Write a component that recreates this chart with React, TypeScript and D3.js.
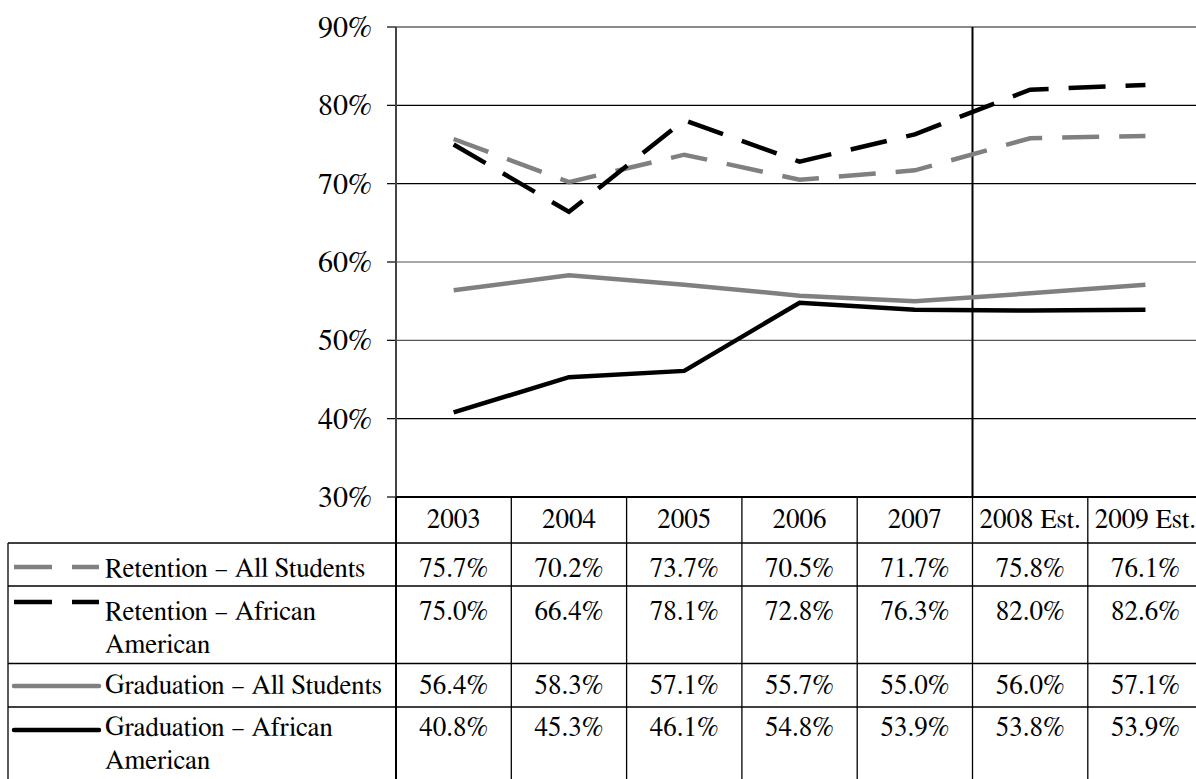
import React from "react";
import * as d3 from "d3";

// Years shown along the category axis / table header
const years = ["2003", "2004", "2005", "2006", "2007", "2008 Est.", "2009 Est."];

// Series values (percent)
const retentionAll = [75.7, 70.2, 73.7, 70.5, 71.7, 75.8, 76.1];
const retentionAA = [75.0, 66.4, 78.1, 72.8, 76.3, 82.0, 82.6];
const graduationAll = [56.4, 58.3, 57.1, 55.7, 55.0, 56.0, 57.1];
const graduationAA = [40.8, 45.3, 46.1, 54.8, 53.9, 53.8, 53.9];

const yTicks = [30, 40, 50, 60, 70, 80, 90];

const seriesNames = [
  ["Retention – All Students"],
  ["Retention – African", "American"],
  ["Graduation – All Students"],
  ["Graduation – African", "American"],
];

const W = 1196;
const H = 779;
const FONT = "FreeSerif, 'Liberation Serif', serif";

export default function App() {
  const left = 396;
  const colW = 115.3;
  const top = 27;
  const bottom = 497;

  const x = d3.scaleBand<string>().domain(years).range([left, left + colW * years.length]);
  const y = d3.scaleLinear().domain([30, 90]).range([bottom, top]);
  const cx = (i: number) => (x(years[i]) as number) + x.bandwidth() / 2;

  const line = d3
    .line<number>()
    .x((_, i) => cx(i))
    .y((d) => y(d));

  const series = [
    { values: retentionAll, color: "#808080", dash: "37 20" },
    { values: retentionAA, color: "#000000", dash: "37 20" },
    { values: graduationAll, color: "#808080", dash: null },
    { values: graduationAA, color: "#000000", dash: null },
  ];

  // table layout: header row sits directly under the plot, then one row per series
  const headerTop = bottom;
  const headerBase = 528;
  const rowTops = [543, 586, 663.5, 707];
  const rowBase = [577, 620, 694, 736];
  const keyY = [567, 602, 686, 730];
  const tableLeft = 8;
  const fs = 27;
  const lineGap = 33;

  const gridColor = (t: number) => (t === 90 || t === 60 ? "#8a8a8a" : t === 50 ? "#555" : "#000");
  const textStyle = { fontFamily: FONT };

  return (
    <svg
      width={W}
      height={H}
      style={{ position: "absolute", left: 0, top: 0, background: "#fff", fontFamily: FONT }}
    >
      <rect width={W} height={H} fill="#fff" />

      {/* horizontal gridlines + tick marks */}
      {yTicks.map((t) => (
        <g key={t}>
          {t !== 30 && (
            <line
              x1={left}
              x2={W}
              y1={y(t)}
              y2={y(t)}
              stroke={gridColor(t)}
              strokeWidth={t === 90 ? 2 : 1.3}
            />
          )}
          <line x1={387} x2={left} y1={y(t)} y2={y(t)} stroke="#000" strokeWidth={1.2} />
          <text x={372} y={y(t) + 10} fontSize={30} textAnchor="end" fill="#000" style={textStyle}>
            {t}%
          </text>
        </g>
      ))}

      {/* value axis */}
      <line x1={left} x2={left} y1={top} y2={bottom} stroke="#444" strokeWidth={2} />

      {/* divider between actual and estimated years */}
      <line
        x1={x(years[5]) as number}
        x2={x(years[5]) as number}
        y1={top}
        y2={bottom}
        stroke="#000"
        strokeWidth={2}
      />

      {/* series lines */}
      {series.map((s, k) => (
        <path
          key={k}
          d={line(s.values) || ""}
          fill="none"
          stroke={s.color}
          strokeWidth={4.5}
          strokeDasharray={s.dash || undefined}
          strokeLinejoin="miter"
        />
      ))}

      {/* data table grid */}
      <g stroke="#000" strokeWidth={1.3}>
        <line x1={left} x2={W} y1={headerTop} y2={headerTop} strokeWidth={2} />
        {rowTops.map((t) => (
          <line key={t} x1={tableLeft} x2={W} y1={t} y2={t} />
        ))}
        <line x1={tableLeft} x2={tableLeft} y1={rowTops[0]} y2={H} />
        {years.map((yr, i) => (
          <line
            key={yr}
            x1={x(yr) as number}
            x2={x(yr) as number}
            y1={headerTop}
            y2={H}
            strokeWidth={i === 0 ? 2 : 1.3}
          />
        ))}
      </g>

      {/* header labels */}
      {years.map((yr, i) => (
        <text
          key={yr}
          x={cx(i)}
          y={headerBase}
          fontSize={fs}
          textAnchor="middle"
          fill="#000"
          style={textStyle}
        >
          {yr}
        </text>
      ))}

      {/* legend keys and series names */}
      {series.map((s, k) => (
        <g key={k}>
          <line
            x1={14}
            x2={99}
            y1={keyY[k]}
            y2={keyY[k]}
            stroke={s.color}
            strokeWidth={4.5}
            strokeDasharray={s.dash ? "38 20" : undefined}
            strokeLinecap={s.dash ? "butt" : "round"}
          />
          {seriesNames[k].map((ln, j) => (
            <text
              key={j}
              x={105}
              y={rowBase[k] + j * lineGap}
              fontSize={fs}
              fill="#000"
              style={textStyle}
            >
              {ln}
            </text>
          ))}
        </g>
      ))}

      {/* table values */}
      {series.map((s, k) =>
        s.values.map((v, i) => (
          <text
            key={`${k}-${i}`}
            x={cx(i)}
            y={rowBase[k]}
            fontSize={fs}
            textAnchor="middle"
            fill="#000"
            style={textStyle}
          >
            {v.toFixed(1)}%
          </text>
        ))
      )}
    </svg>
  );
}
